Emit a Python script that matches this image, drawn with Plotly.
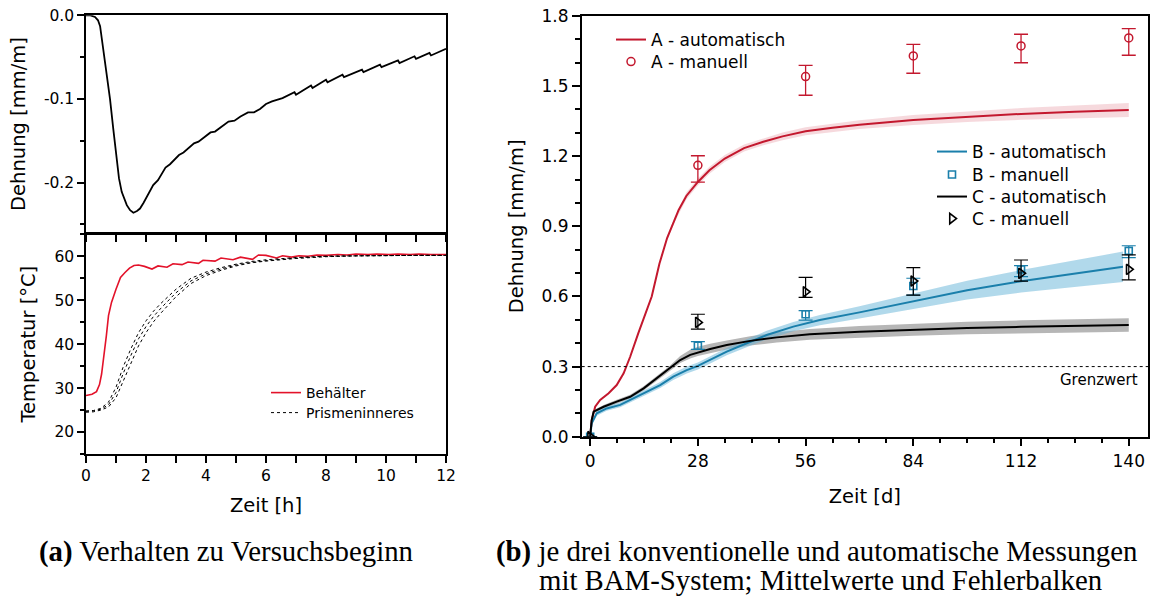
import plotly.graph_objects as go

# ---------------- data: left top (strain at start) ----------------
t_strain = [0.00, 0.15, 0.30, 0.40, 0.47, 0.58, 0.69, 0.80, 0.91, 1.02, 1.10, 1.19, 1.28, 1.36, 1.47,
            1.58, 1.70, 1.80, 1.92, 2.02, 2.15, 2.24, 2.40, 2.55, 2.65, 2.80, 2.95, 3.10, 3.25, 3.45,
            3.60, 3.75, 3.95, 4.15, 4.30, 4.50, 4.75, 4.95, 5.15, 5.40, 5.60, 5.80, 6.00, 6.20, 6.35,
            6.55, 6.95, 7.00, 7.50, 7.55, 8.00, 8.05, 8.55, 8.60, 9.20, 9.25, 9.80, 9.85, 10.40, 10.45,
            10.95, 11.00, 11.45, 11.50, 12.00]
v_strain = [0.000, -0.000, -0.002, -0.006, -0.013, -0.041, -0.073, -0.100, -0.136, -0.172, -0.195, -0.211,
            -0.221, -0.227, -0.233, -0.236, -0.234, -0.231, -0.224, -0.217, -0.208, -0.203, -0.197, -0.188,
            -0.182, -0.178, -0.172, -0.167, -0.164, -0.158, -0.153, -0.151, -0.145, -0.140, -0.139, -0.134,
            -0.127, -0.126, -0.121, -0.116, -0.116, -0.112, -0.106, -0.103, -0.101, -0.099, -0.092, -0.095,
            -0.084, -0.087, -0.077, -0.080, -0.071, -0.074, -0.065, -0.068, -0.059, -0.062, -0.054, -0.057,
            -0.049, -0.052, -0.045, -0.048, -0.040]

# ---------------- data: left bottom (temperatures) ----------------
t_beh = [0, 0.2, 0.35, 0.45, 0.52, 0.6, 0.68, 0.75, 0.85, 1.0, 1.15, 1.3, 1.45, 1.6, 1.75, 1.95, 2.2, 2.4,
         2.7, 2.9, 3.2, 3.4, 3.75, 3.9, 4.3, 4.5, 4.9, 5.15, 5.55, 5.75, 6.0, 6.35, 6.55, 6.85, 7.1, 7.4,
         7.7, 8.0, 8.4, 8.7, 9.0, 9.4, 9.7, 10.1, 10.4, 10.8, 11.1, 11.5, 11.8, 12]
T_beh = [28.3, 28.6, 29.2, 30.8, 33.2, 37.0, 42.0, 46.5, 49.5, 52.5, 55.2, 56.3, 57.3, 57.9, 58.0, 57.7,
         57.1, 57.8, 57.5, 58.3, 58.1, 58.7, 58.4, 59.1, 58.9, 59.6, 59.2, 59.8, 59.3, 60.3, 60.2, 59.6,
         60.1, 59.8, 60.1, 60.0, 60.3, 60.2, 60.4, 60.3, 60.5, 60.4, 60.5, 60.4, 60.5, 60.4, 60.5, 60.4,
         60.5, 60.4]

t_prisma = [0, 0.25, 0.5, 0.75, 1.0, 1.25, 1.5, 1.75, 2.0, 2.25, 2.5, 2.75, 3.0, 3.5, 4.0, 4.5, 5.0,
            5.5, 6.0, 7.0, 8.0, 9.0, 10.0, 11.0, 12.0]
T_prisma_1 = [24.8, 24.9, 25.4, 26.8, 30.2, 35.0, 39.0, 42.6, 45.3, 47.5, 49.3, 51.0, 52.5, 55.0, 56.4,
              57.4, 58.2, 58.8, 59.2, 59.7, 60.0, 60.1, 60.2, 60.2, 60.2]
T_prisma_2 = [24.7, 24.8, 25.2, 26.2, 29.0, 33.5, 37.5, 41.2, 44.0, 46.3, 48.2, 50.0, 51.7, 54.4, 56.0,
              57.1, 58.0, 58.6, 59.0, 59.6, 60.0, 60.1, 60.2, 60.2, 60.2]
T_prisma_3 = [24.5, 24.6, 25.0, 25.7, 27.8, 31.8, 35.8, 39.6, 42.6, 45.1, 47.1, 49.0, 50.8, 53.8, 55.6,
              56.8, 57.8, 58.5, 58.9, 59.5, 59.9, 60.1, 60.2, 60.2, 60.2]

# ---------------- data: right panel ----------------
A_days = [0, 0.4, 1.3, 2.6, 4.8, 6.9, 8.7, 10.4, 12.5, 14.7, 16, 18, 20, 22, 23, 25, 28, 31, 35, 40, 45,
          50, 56, 63, 70, 84, 98, 112, 126, 140]
A_auto = [0, 0.07, 0.128, 0.157, 0.186, 0.221, 0.271, 0.342, 0.442, 0.542, 0.60, 0.74, 0.85, 0.93, 0.97,
          1.03, 1.09, 1.14, 1.19, 1.235, 1.262, 1.285, 1.307, 1.322, 1.335, 1.355, 1.369, 1.381, 1.390, 1.398]
A_band_days = [20, 22, 25, 28, 31, 35, 40, 45, 50, 56, 63, 70, 84, 98, 112, 126, 140]
A_band_lo = [0.84, 0.92, 1.015, 1.075, 1.125, 1.175, 1.22, 1.247, 1.268, 1.29, 1.304, 1.316, 1.334,
             1.346, 1.356, 1.363, 1.368]
A_band_hi = [0.86, 0.94, 1.045, 1.105, 1.155, 1.205, 1.25, 1.277, 1.302, 1.324, 1.340, 1.354, 1.376,
             1.392, 1.406, 1.417, 1.428]

B_days = [0, 0.4, 1.7, 4.3, 7.8, 11.2, 14.7, 18.2, 21.6, 25.1, 28, 31.2, 35.5, 40.7, 45.9, 52.8, 59.7,
          70, 84, 98, 112, 126, 138.5]
B_auto = [0, 0.057, 0.10, 0.121, 0.136, 0.164, 0.193, 0.221, 0.257, 0.285, 0.303, 0.328, 0.364, 0.40,
          0.435, 0.471, 0.499, 0.532, 0.58, 0.627, 0.665, 0.698, 0.727]
B_band_lo = [0, 0.05, 0.09, 0.111, 0.126, 0.153, 0.181, 0.208, 0.243, 0.27, 0.288, 0.313, 0.348, 0.383,
             0.417, 0.451, 0.477, 0.506, 0.548, 0.587, 0.617, 0.642, 0.662]
B_band_hi = [0, 0.064, 0.11, 0.131, 0.146, 0.175, 0.205, 0.234, 0.271, 0.30, 0.318, 0.343, 0.380, 0.417,
             0.453, 0.491, 0.521, 0.558, 0.612, 0.667, 0.713, 0.754, 0.792]

C_days = [0, 0.4, 0.9, 3.5, 6.9, 10.4, 13.9, 17.3, 20.8, 23.4, 26, 28, 31.2, 35.5, 41.6, 48.5, 57.1, 70,
          84, 98, 112, 126, 140]
C_auto = [0, 0.071, 0.107, 0.128, 0.15, 0.171, 0.207, 0.25, 0.293, 0.328, 0.35, 0.36, 0.375, 0.392, 0.41,
          0.425, 0.438, 0.449, 0.458, 0.465, 0.47, 0.475, 0.478]
C_band_lo = [0, 0.065, 0.1, 0.12, 0.142, 0.163, 0.198, 0.24, 0.282, 0.315, 0.335, 0.345, 0.358, 0.373,
             0.39, 0.403, 0.415, 0.424, 0.432, 0.438, 0.442, 0.446, 0.449]
C_band_hi = [0, 0.078, 0.114, 0.136, 0.158, 0.18, 0.216, 0.26, 0.305, 0.345, 0.372, 0.385, 0.398, 0.412,
             0.43, 0.447, 0.461, 0.474, 0.484, 0.492, 0.498, 0.503, 0.507]

man_days = [28, 56, 84, 112, 140]
A_man = [1.161, 1.541, 1.629, 1.672, 1.706]
A_man_plus = [0.041, 0.048, 0.050, 0.050, 0.040]
A_man_minus = [0.072, 0.080, 0.074, 0.072, 0.074]
B_man = [0.389, 0.524, 0.645, 0.716, 0.795]
B_man_plus = [0.018, 0.015, 0.033, 0.016, 0.022]
B_man_minus = [0.015, 0.025, 0.039, 0.031, 0.029]
C_man = [0.489, 0.620, 0.666, 0.699, 0.716]
C_man_plus = [0.035, 0.062, 0.057, 0.057, 0.062]
C_man_minus = [0.029, 0.024, 0.060, 0.033, 0.045]
start_day = [0]
start_val = [0]
GRENZWERT = 0.3

# ---------------- styles ----------------
W, H = 1154, 597
RED_L = "#e3122a"
RED_A = "#c3182e"
BLUE = "#1a7fab"
FONT = "DejaVu Sans"


def px_x(p):
    return p / W


def px_y(p):
    return 1 - p / H


fig = go.Figure()

# left top
fig.add_trace(go.Scatter(x=t_strain, y=v_strain, mode="lines", line=dict(color="black", width=1.8),
                         xaxis="x", yaxis="y", showlegend=False))

# left bottom
fig.add_trace(go.Scatter(x=t_beh, y=T_beh, mode="lines", line=dict(color=RED_L, width=1.6),
                         xaxis="x2", yaxis="y2", name="Behälter", legend="legend7"))
for i, Tp in enumerate([T_prisma_1, T_prisma_2, T_prisma_3]):
    fig.add_trace(go.Scatter(x=t_prisma, y=Tp, mode="lines", line=dict(color="black", width=1, dash="dot"),
                             xaxis="x2", yaxis="y2", name="Prismeninneres", legend="legend8",
                             showlegend=(i == 0)))

# right: bands
fig.add_trace(go.Scatter(x=A_band_days + A_band_days[::-1], y=A_band_hi + A_band_lo[::-1], fill="toself",
                         fillcolor="rgba(215,80,100,0.22)", line=dict(width=0), xaxis="x3", yaxis="y3",
                         showlegend=False, hoverinfo="skip"))
fig.add_trace(go.Scatter(x=C_days + C_days[::-1], y=C_band_hi + C_band_lo[::-1], fill="toself",
                         fillcolor="rgba(110,110,110,0.5)", line=dict(width=0), xaxis="x3", yaxis="y3",
                         showlegend=False, hoverinfo="skip"))
fig.add_trace(go.Scatter(x=B_days + B_days[::-1], y=B_band_hi + B_band_lo[::-1], fill="toself",
                         fillcolor="rgba(100,180,215,0.5)", line=dict(width=0), xaxis="x3", yaxis="y3",
                         showlegend=False, hoverinfo="skip"))

# right: lines and manual points
fig.add_trace(go.Scatter(x=A_days, y=A_auto, mode="lines", line=dict(color=RED_A, width=2),
                         xaxis="x3", yaxis="y3", name="A - automatisch", legend="legend"))
fig.add_trace(go.Scatter(x=man_days, y=A_man, mode="markers",
                         marker=dict(symbol="circle-open", size=8, color=RED_A, line=dict(width=1.5)),
                         error_y=dict(type="data", array=A_man_plus, arrayminus=A_man_minus, color=RED_A,
                                      thickness=1.3, width=7),
                         xaxis="x3", yaxis="y3", name="A - manuell", legend="legend2"))
fig.add_trace(go.Scatter(x=B_days, y=B_auto, mode="lines", line=dict(color=BLUE, width=2),
                         xaxis="x3", yaxis="y3", name="B - automatisch", legend="legend3"))
fig.add_trace(go.Scatter(x=start_day + man_days, y=start_val + B_man, mode="markers",
                         marker=dict(symbol="square-open", size=7, color=BLUE, line=dict(width=1.6)),
                         error_y=dict(type="data", array=[0] + B_man_plus, arrayminus=[0] + B_man_minus,
                                      color=BLUE, thickness=1.2, width=7),
                         xaxis="x3", yaxis="y3", name="B - manuell", legend="legend4"))
fig.add_trace(go.Scatter(x=C_days, y=C_auto, mode="lines", line=dict(color="black", width=2),
                         xaxis="x3", yaxis="y3", name="C - automatisch", legend="legend5"))
fig.add_trace(go.Scatter(x=start_day + man_days, y=start_val + C_man, mode="markers",
                         marker=dict(symbol="triangle-right-open", size=9, color="black", line=dict(width=1.6)),
                         error_y=dict(type="data", array=[0] + C_man_plus, arrayminus=[0] + C_man_minus,
                                      color="black", thickness=1.2, width=7),
                         xaxis="x3", yaxis="y3", name="C - manuell", legend="legend6"))

# Grenzwert line
fig.add_shape(type="line", xref="x3 domain", yref="y3", x0=0, x1=1, y0=GRENZWERT, y1=GRENZWERT,
              line=dict(color="black", width=1, dash="dot"))
fig.add_annotation(xref="x3 domain", yref="y3", x=0.985, y=GRENZWERT, text="Grenzwert", showarrow=False,
                   xanchor="right", yanchor="top", yshift=-2, font=dict(family=FONT, size=15, color="black"))

LEFT_TICK = dict(family=FONT, size=15.5, color="black")
RIGHT_TICK = dict(family=FONT, size=17, color="black")
axis_common = dict(showline=True, linecolor="black", linewidth=1.5, mirror=True, showgrid=False,
                   zeroline=False, ticks="outside", tickcolor="black", tickwidth=1.5, automargin=False)
TITLE_FONT = dict(family=FONT, size=19.5, color="black")
MINOR = dict(ticks="outside", tickcolor="black", tickwidth=1.5)

xl_dom = [px_x(86), px_x(446)]
fig.update_layout(
    xaxis=dict(domain=xl_dom, anchor="y", range=[0, 12], dtick=1, ticklen=7, showticklabels=False,
               **axis_common),
    yaxis=dict(domain=[px_y(232.8), px_y(15.3)], anchor="x", range=[-0.26, 0],
               tickvals=[-0.2, -0.1, 0.0], ticktext=["-0.2", "-0.1", "0.0"], ticklen=7, tickfont=LEFT_TICK,
               minor=dict(dtick=0.05, tick0=0, ticklen=4, **MINOR),
               title=dict(text="Dehnung [mm/m]", font=TITLE_FONT, standoff=13),
               **axis_common),
    xaxis2=dict(domain=xl_dom, anchor="y2", range=[0, 12], dtick=2, ticklen=7, tickfont=LEFT_TICK,
                minor=dict(dtick=1, ticklen=7, **MINOR),
                title=dict(text="Zeit [h]", font=TITLE_FONT, standoff=14),
                **axis_common),
    yaxis2=dict(domain=[px_y(454), px_y(234.3)], anchor="x2", range=[15, 65], dtick=10, ticklen=7,
                tickfont=LEFT_TICK,
                minor=dict(dtick=5, ticklen=4, **MINOR),
                title=dict(text="Temperatur [°C]", font=TITLE_FONT, standoff=14),
                **axis_common),
    xaxis3=dict(domain=[px_x(581.7), px_x(1148)], anchor="y3", range=[-2.2, 145],
                tickvals=[0, 28, 56, 84, 112, 140], ticklen=8, tickfont=RIGHT_TICK,
                minor=dict(dtick=7, tick0=0, ticklen=5, **MINOR),
                title=dict(text="Zeit [d]", font=TITLE_FONT, standoff=20),
                **axis_common),
    yaxis3=dict(domain=[px_y(436.7), px_y(16)], anchor="x3", range=[0, 1.8], dtick=0.3, tickformat=".1f",
                ticklen=8, tickfont=RIGHT_TICK,
                minor=dict(dtick=0.1, tick0=0, ticklen=5, **MINOR),
                title=dict(text="Dehnung [mm/m]", font=TITLE_FONT, standoff=13),
                **axis_common),
    width=W, height=H, margin=dict(l=0, r=0, t=0, b=0),
    plot_bgcolor="white", paper_bgcolor="white",
)

# one legend box per entry so each row sits where the reference puts it
legend_rows = [("legend", 651, 40, 17), ("legend2", 651, 62, 17),
               ("legend3", 972, 152, 17), ("legend4", 972, 175, 17),
               ("legend5", 972, 197, 17), ("legend6", 972, 219, 17),
               ("legend7", 306, 393, 14), ("legend8", 306, 413, 14)]
for key, tx, ty, fs in legend_rows:
    fig.update_layout({key: dict(x=px_x(tx - 40), y=px_y(ty), xanchor="left", yanchor="middle",
                                 bgcolor="rgba(0,0,0,0)", borderwidth=0, itemwidth=30,
                                 font=dict(family=FONT, size=fs, color="black"))})

CAP = dict(family="Liberation Serif", size=28.8, color="black")
fig.add_annotation(xref="paper", yref="paper", x=px_x(37), y=px_y(551), xanchor="left", yanchor="middle",
                   text="<b>(a)</b> Verhalten zu Versuchsbeginn", showarrow=False, font=CAP)
fig.add_annotation(xref="paper", yref="paper", x=px_x(494), y=px_y(551), xanchor="left", yanchor="middle",
                   text="<b>(b)</b> je drei konventionelle und automatische Messungen", showarrow=False,
                   font=CAP)
fig.add_annotation(xref="paper", yref="paper", x=px_x(537), y=px_y(580), xanchor="left", yanchor="middle",
                   text="mit BAM-System; Mittelwerte und Fehlerbalken", showarrow=False, font=CAP)

fig.write_html("out.html")
